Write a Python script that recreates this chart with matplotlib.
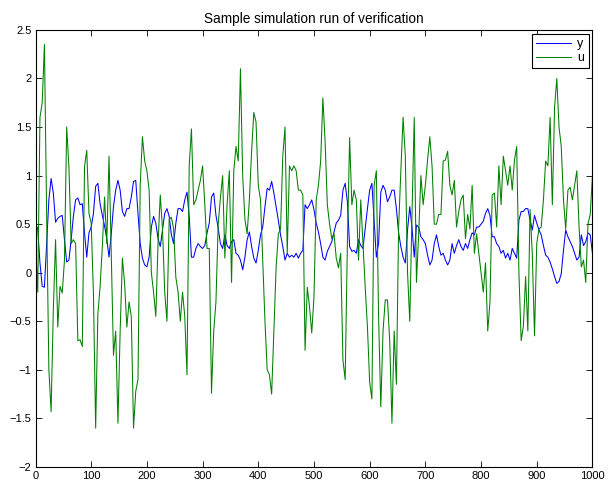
import numpy as np
import matplotlib.pyplot as plt

plt.rcParams['font.family'] = ['Liberation Sans', 'DejaVu Sans']

# sampled every 4 steps, k = 0..1000
step = 4

y_vals = [
    0.51, 0.45, 0.10, -0.14, -0.15, 0.30, 0.75, 0.97, 0.82, 0.52,
    0.56, 0.58, 0.59, 0.34, 0.11, 0.13, 0.34, 0.58, 0.75, 0.77,
    0.70, 0.71, 0.41, 0.16, 0.41, 0.47, 0.61, 0.89, 0.92, 0.71,
    0.59, 0.48, 0.35, 0.16, 0.40, 0.68, 0.85, 0.95, 0.85, 0.63,
    0.58, 0.66, 0.66, 0.78, 0.94, 0.95, 0.61, 0.30, 0.15, 0.08,
    0.06, 0.16, 0.47, 0.58, 0.51, 0.35, 0.27, 0.44, 0.61, 0.66,
    0.58, 0.39, 0.30, 0.51, 0.66, 0.66, 0.63, 0.75, 0.83, 0.58,
    0.16, 0.16, 0.25, 0.30, 0.27, 0.25, 0.28, 0.41, 0.51, 0.78,
    0.82, 0.59, 0.46, 0.30, 0.25, 0.39, 0.28, 0.25, 0.32, 0.34,
    0.20, 0.18, 0.13, 0.03, 0.16, 0.34, 0.42, 0.27, 0.15, 0.10,
    0.23, 0.39, 0.47, 0.68, 0.87, 0.85, 0.94, 0.82, 0.68, 0.54,
    0.39, 0.27, 0.13, 0.20, 0.16, 0.18, 0.16, 0.20, 0.15, 0.20,
    0.23, 0.70, 0.66, 0.70, 0.75, 0.65, 0.51, 0.42, 0.30, 0.16,
    0.13, 0.22, 0.27, 0.32, 0.42, 0.51, 0.54, 0.59, 0.85, 0.92,
    0.73, 0.27, 0.22, 0.23, 0.20, 0.34, 0.28, 0.25, 0.46, 0.66,
    0.85, 0.92, 0.54, 0.16, 0.30, 0.83, 0.90, 0.85, 0.73, 0.78,
    0.85, 0.85, 0.66, 0.41, 0.27, 0.16, 0.10, 0.44, 0.68, 0.47,
    0.16, 0.49, 0.47, 0.37, 0.34, 0.30, 0.18, 0.08, 0.13, 0.30,
    0.39, 0.27, 0.18, 0.20, 0.13, 0.08, 0.13, 0.30, 0.20, 0.28,
    0.34, 0.27, 0.23, 0.30, 0.25, 0.34, 0.41, 0.39, 0.47, 0.47,
    0.50, 0.53, 0.61, 0.66, 0.59, 0.37, 0.37, 0.30, 0.27, 0.20,
    0.23, 0.15, 0.20, 0.13, 0.25, 0.20, 0.15, 0.54, 0.63, 0.63,
    0.66, 0.66, 0.54, 0.44, 0.59, 0.51, 0.44, 0.39, 0.28, 0.18,
    0.16, 0.11, 0.04, -0.04, -0.11, -0.09, -0.01, 0.23, 0.44, 0.37,
    0.32, 0.27, 0.20, 0.13, 0.16, 0.39, 0.28, 0.32, 0.41, 0.39,
    0.20,
]

u_vals = [
    0.35, -0.20, 1.60, 1.75, 2.35, 0.60, -1.00, -1.43, -0.38, 0.34,
    -0.56, -0.14, -0.21, 0.13, 1.50, 1.09, 0.30, 0.34, 0.30, -0.70,
    -0.69, -0.76, 1.09, 1.26, 0.61, 0.51, -0.21, -1.60, -0.42, -0.14,
    0.27, 0.78, 0.30, 1.20, 0.20, -0.85, -0.60, -1.55, -0.60, 0.15,
    -0.11, -0.56, -0.30, -0.45, -1.60, -1.22, -1.10, 0.90, 1.40, 1.15,
    1.05, 0.85, 0.00, -0.20, -0.45, 0.30, 0.80, 0.45, -0.20, -0.50,
    0.55, 0.57, 0.45, -0.05, -0.20, -0.50, -0.20, -0.45, -1.05, 1.10,
    1.48, 0.70, 0.75, 0.85, 0.95, 1.10, 0.70, 0.25, 0.25, -1.24,
    -0.60, -0.30, 0.50, 0.77, 1.00, 0.15, 0.70, 1.05, -0.10, 1.05,
    1.30, 1.15, 2.10, 1.00, 0.55, 0.40, 0.75, 1.25, 1.65, 1.55,
    0.90, 0.75, 0.13, -0.50, -1.00, -1.05, -1.25, -0.60, 0.05, 0.40,
    0.45, 1.20, 1.50, 0.20, 1.10, 1.05, 1.10, 1.05, 0.85, 0.85,
    0.80, -0.80, -0.15, -0.35, -0.62, -0.25, 0.75, 0.90, 1.15, 1.80,
    1.35, 0.70, 0.50, 0.35, 0.40, 0.15, 0.05, 0.20, -0.90, -1.10,
    0.30, 1.39, 0.70, 0.85, 0.75, 0.13, 0.75, 0.30, -0.15, -0.56,
    -1.13, -1.30, 0.90, 1.05, -0.45, -1.38, -0.60, -0.28, -0.28, -0.70,
    -1.55, -0.60, -1.15, 0.47, 1.05, 1.60, 1.20, 0.00, -0.50, 0.60,
    1.60, -0.10, 0.40, 1.00, 0.70, 0.90, 1.16, 1.40, 1.10, 0.50,
    0.50, 0.60, 0.60, 1.15, 1.16, 1.25, 0.90, 0.80, 0.95, 0.47,
    0.63, 0.75, 0.80, 0.35, 0.60, 0.45, 0.90, 0.20, 0.40, 0.20,
    0.00, -0.20, 0.10, -0.60, -0.30, 0.80, 0.82, 0.47, 1.10, 0.70,
    1.20, 1.05, 0.90, 1.10, 0.85, 1.16, 1.30, 0.00, -0.70, -0.55,
    -0.04, -0.60, 0.65, 0.20, -0.65, 0.30, 0.45, 0.47, 0.75, 1.15,
    1.10, 1.60, 0.70, 1.70, 2.00, 1.50, 1.30, 0.75, 0.45, 0.85,
    0.88, 0.75, 0.90, 1.05, 0.47, 0.06, 0.13, -0.10, 0.50, 0.60,
    1.00,
]

k = np.arange(len(y_vals)) * step

fig = plt.figure(figsize=(6.08, 4.90), dpi=100)
ax = fig.add_axes([0.0584, 0.047, 0.916, 0.892])

ax.plot(k, y_vals, color=(0, 0, 1), lw=0.75, label='y')
ax.plot(k, u_vals, color=(0, 0.5, 0), lw=0.75, label='u')

ax.set_xlim(0, 1000)
ax.set_ylim(-2, 2.5)
ax.set_xticks(np.arange(0, 1001, 100))
ax.set_yticks(np.arange(-2, 2.51, 0.5))
ax.set_yticklabels(['\u22122', '\u22121.5', '\u22121', '\u22120.5', '0',
                    '0.5', '1', '1.5', '2', '2.5'])
ax.tick_params(direction='in', top=True, right=True, length=4, width=0.6,
               labelsize=8, pad=3)
for sp in ax.spines.values():
    sp.set_linewidth(0.8)

ax.set_title('Sample simulation run of verification', fontsize=9.8, pad=5)

leg = ax.legend(loc='upper right', fancybox=False, framealpha=1,
                edgecolor='black', fontsize=9, handlelength=2.8,
                borderaxespad=0.3, labelspacing=0.15, borderpad=0.35,
                handletextpad=0.5)
leg.get_frame().set_linewidth(0.8)

fig.savefig('out.png', dpi=100)
